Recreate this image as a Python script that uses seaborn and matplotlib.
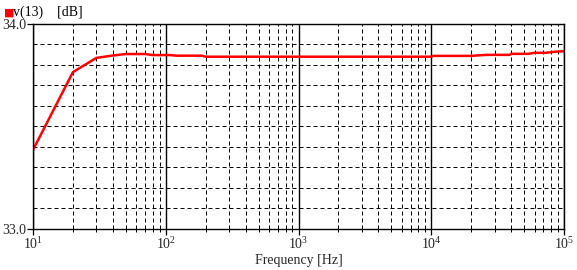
import numpy as np
import pandas as pd
import matplotlib
matplotlib.use("Agg")
import matplotlib.pyplot as plt
import matplotlib.ticker as mticker
import seaborn as sns

freq = [10, 20, 30, 40, 50, 70, 80, 100, 108, 120, 187, 200, 1000, 10000, 10400, 20000, 26000, 39000, 40000, 54000, 60000, 73000, 85000, 100000]
v13_db = [33.384, 33.764, 33.833, 33.845, 33.852, 33.852, 33.847, 33.847, 33.847, 33.844, 33.844, 33.839, 33.839, 33.839, 33.843, 33.843, 33.848, 33.848, 33.853, 33.853, 33.858, 33.858, 33.863, 33.866]
xtick_vals = [10, 100, 1000, 10000, 100000]
xtick_labels = ["$10^{1}$", "$10^{2}$", "$10^{3}$", "$10^{4}$", "$10^{5}$"]
ytick_vals = [33.0, 34.0]
ytick_labels = ["33.0", "34.0"]

sns.set_theme(style="white")
plt.rcParams['font.family'] = ['Liberation Serif', 'DejaVu Serif']
plt.rcParams['mathtext.fontset'] = 'custom'
plt.rcParams['mathtext.rm'] = 'Liberation Serif'
plt.rcParams['mathtext.it'] = 'Liberation Serif'

df = pd.DataFrame({"Frequency": freq, "v13": v13_db})

fig = plt.figure(figsize=(5.77, 2.70), dpi=100)
ax = fig.add_axes([33/577, (270-228.7)/270, 531/577, 205/270])

sns.lineplot(data=df, x="Frequency", y="v13", ax=ax, color="#ff0000", linewidth=1.8, legend=False)
ax.set_xscale("log")
ax.set_xlim(10, 100000)
ax.set_ylim(33.0, 34.0)

ax.set_xticks(xtick_vals)
ax.set_xticklabels(xtick_labels, fontsize=10)
ax.xaxis.set_minor_locator(mticker.LogLocator(base=10, subs=np.arange(2, 10)))
ax.xaxis.set_minor_formatter(mticker.NullFormatter())
ax.set_yticks(ytick_vals)
ax.set_yticklabels(ytick_labels, fontsize=10)
ax.yaxis.set_minor_locator(mticker.MultipleLocator(0.1))

ax.tick_params(axis="both", which="major", direction="out", color="black", length=4, width=0.9, pad=1, bottom=True, left=True)
ax.tick_params(axis="x", which="minor", direction="out", color="black", length=2, width=0.72, bottom=True)
ax.tick_params(axis="y", which="minor", length=0)

dash = (0, (4, 3))
ax.grid(True, axis="x", which="major", color="black", linestyle="-", linewidth=1.0)
ax.grid(True, axis="x", which="minor", color="black", linestyle=dash, linewidth=0.72)
ax.grid(True, axis="y", which="both", color="black", linestyle=dash, linewidth=0.72)
ax.set_axisbelow(True)

for s in ax.spines.values():
    s.set_color("black")
    s.set_linewidth(1.0)

ax.set_xlabel("Frequency [Hz]", fontsize=10, labelpad=2)
ax.set_ylabel("")

fig.text(4/577, 1 - 13/270, "\u25a0", color="#ff0000", fontsize=8, va="center", ha="left", family="DejaVu Sans")
fig.text(13/577, 1 - 12/270, "v(13)    [dB]", color="black", fontsize=10, va="center", ha="left")

fig.savefig("out.png", dpi=100, facecolor="white")
